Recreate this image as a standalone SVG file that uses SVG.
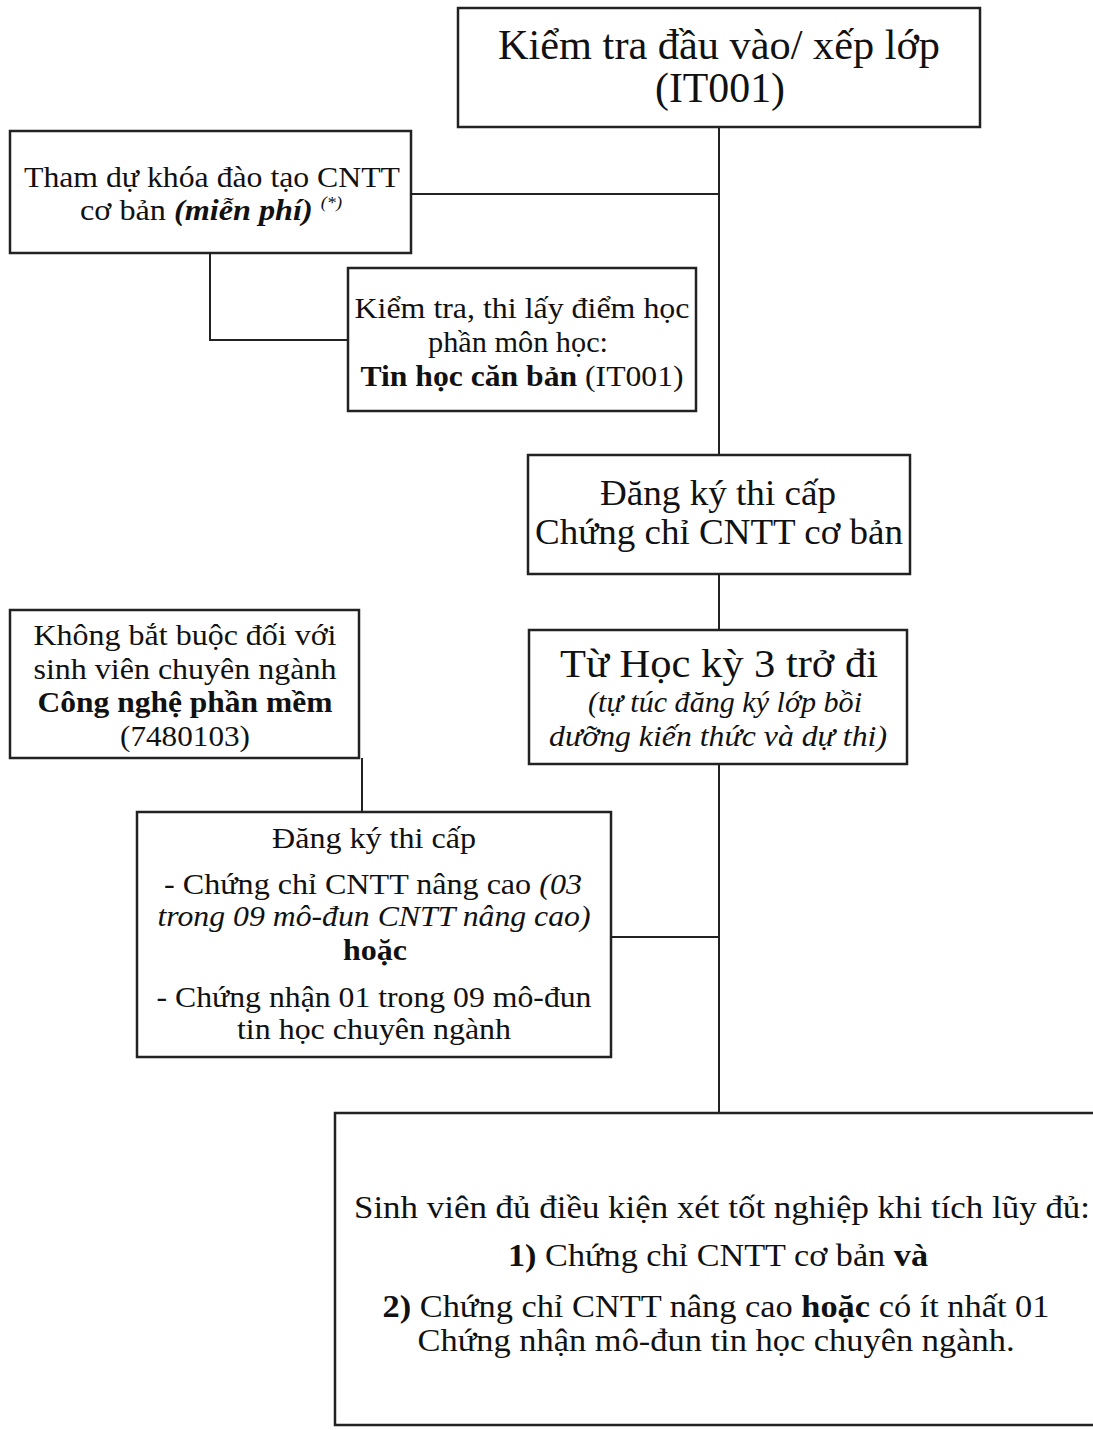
<svg xmlns="http://www.w3.org/2000/svg" width="1093" height="1430" viewBox="0 0 1093 1430">
<style>
.box{fill:#fff;stroke:#222;stroke-width:2.5}
.ln{fill:none;stroke:#222;stroke-width:2}
text{font-family:"Liberation Serif","Times New Roman",serif;fill:#111;text-anchor:middle}
.b{font-weight:bold}
.i{font-style:italic}
</style>
<rect width="1093" height="1430" fill="#fff"/>
<g id="connectors">
<polyline class="ln" points="719,127 719,455"/>
<polyline class="ln" points="411,194 719,194"/>
<polyline class="ln" points="210,253 210,340 348,340"/>
<polyline class="ln" points="719,574 719,630"/>
<polyline class="ln" points="719,764 719,1113"/>
<polyline class="ln" points="611,937 719,937"/>
<polyline class="ln" points="362,758 362,812"/>
</g>
<g id="n1">
<rect class="box" x="458" y="8" width="522" height="119"/>
<text x="719" y="59" font-size="42" textLength="442" lengthAdjust="spacingAndGlyphs">Kiểm tra đầu vào/ xếp lớp</text>
<text x="720" y="102" font-size="42" textLength="130" lengthAdjust="spacingAndGlyphs">(IT001)</text>
</g>
<g id="n2">
<rect class="box" x="10" y="131" width="401" height="122"/>
<text x="212" y="187" font-size="30" textLength="376" lengthAdjust="spacingAndGlyphs">Tham dự khóa đào tạo CNTT</text>
<text x="211" y="220" font-size="30" textLength="262" lengthAdjust="spacingAndGlyphs">cơ bản <tspan class="b i">(miễn phí)</tspan> <tspan class="i" font-size="17" dy="-12">(*)</tspan></text>
</g>
<g id="n3">
<rect class="box" x="348" y="268" width="348" height="143"/>
<text x="522" y="318" font-size="30" textLength="335" lengthAdjust="spacingAndGlyphs">Kiểm tra, thi lấy điểm học</text>
<text x="518" y="352" font-size="30" textLength="180" lengthAdjust="spacingAndGlyphs">phần môn học:</text>
<text x="522" y="386" font-size="30" textLength="323" lengthAdjust="spacingAndGlyphs"><tspan class="b">Tin học căn bản</tspan> (IT001)</text>
</g>
<g id="n4">
<rect class="box" x="528" y="455" width="382" height="119"/>
<text x="718" y="505" font-size="36" textLength="236" lengthAdjust="spacingAndGlyphs">Đăng ký thi cấp</text>
<text x="719" y="544" font-size="36" textLength="368" lengthAdjust="spacingAndGlyphs">Chứng chỉ CNTT cơ bản</text>
</g>
<g id="n5">
<rect class="box" x="529" y="630" width="378" height="134"/>
<text x="719" y="677" font-size="41" textLength="318" lengthAdjust="spacingAndGlyphs">Từ Học kỳ 3 trở đi</text>
<text x="725" y="712" font-size="30" class="i" textLength="274" lengthAdjust="spacingAndGlyphs">(tự túc đăng ký lớp bồi</text>
<text x="718" y="746" font-size="30" class="i" textLength="338" lengthAdjust="spacingAndGlyphs">dưỡng kiến thức và dự thi)</text>
</g>
<g id="n6">
<rect class="box" x="10" y="610" width="349" height="148"/>
<text x="185" y="645" font-size="30" textLength="303" lengthAdjust="spacingAndGlyphs">Không bắt buộc đối với</text>
<text x="185" y="679" font-size="30" textLength="303" lengthAdjust="spacingAndGlyphs">sinh viên chuyên ngành</text>
<text x="185" y="712" font-size="30" class="b" textLength="295" lengthAdjust="spacingAndGlyphs">Công nghệ phần mềm</text>
<text x="185" y="746" font-size="30" textLength="130" lengthAdjust="spacingAndGlyphs">(7480103)</text>
</g>
<g id="n7">
<rect class="box" x="137" y="812" width="474" height="245"/>
<text x="374" y="848" font-size="30" textLength="204" lengthAdjust="spacingAndGlyphs">Đăng ký thi cấp</text>
<text x="373" y="894" font-size="30" textLength="418" lengthAdjust="spacingAndGlyphs">- Chứng chỉ CNTT nâng cao <tspan class="i">(03</tspan></text>
<text x="374" y="926" font-size="30" class="i" textLength="433" lengthAdjust="spacingAndGlyphs">trong 09 mô-đun CNTT nâng cao)</text>
<text x="375" y="960" font-size="30" class="b" textLength="64" lengthAdjust="spacingAndGlyphs">hoặc</text>
<text x="374" y="1007" font-size="30" textLength="435" lengthAdjust="spacingAndGlyphs">- Chứng nhận 01 trong 09 mô-đun</text>
<text x="374" y="1039" font-size="30" textLength="274" lengthAdjust="spacingAndGlyphs">tin học chuyên ngành</text>
</g>
<g id="n8">
<rect class="box" x="335" y="1113" width="770" height="312"/>
<text x="722" y="1218" font-size="32" textLength="736" lengthAdjust="spacingAndGlyphs">Sinh viên đủ điều kiện xét tốt nghiệp khi tích lũy đủ:</text>
<text x="718" y="1266" font-size="32" textLength="420" lengthAdjust="spacingAndGlyphs"><tspan class="b">1)</tspan> Chứng chỉ CNTT cơ bản <tspan class="b">và</tspan></text>
<text x="716" y="1317" font-size="32" textLength="667" lengthAdjust="spacingAndGlyphs"><tspan class="b">2)</tspan> Chứng chỉ CNTT nâng cao <tspan class="b">hoặc</tspan> có ít nhất 01</text>
<text x="716" y="1351" font-size="32" textLength="597" lengthAdjust="spacingAndGlyphs">Chứng nhận mô-đun tin học chuyên ngành.</text>
</g>
</svg>
